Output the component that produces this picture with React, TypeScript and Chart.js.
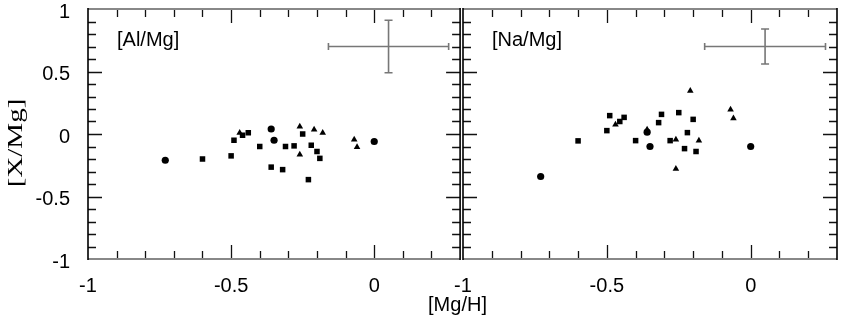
import React, { useEffect, useRef } from "react";
import { Chart, registerables } from "chart.js";
Chart.register(...registerables);

// ---- axis definitions ----
const xMin = -1;
const xMax = 0.3;
const yMin = -1;
const yMax = 1;
const xTickValues = [-1, -0.5, 0];
const yTickValues = [-1, -0.5, 0, 0.5, 1];

// ---- [Al/Mg] panel ----
const alCircles: [number, number][] = [
  [-0.73, -0.21], [-0.36, 0.04], [-0.35, -0.05], [0.0, -0.06],
];
const alSquares: [number, number][] = [
  [-0.6, -0.2], [-0.5, -0.175], [-0.49, -0.05], [-0.46, -0.01], [-0.44, 0.01],
  [-0.4, -0.1], [-0.36, -0.265], [-0.32, -0.285], [-0.31, -0.1], [-0.28, -0.095],
  [-0.25, 0.0], [-0.22, -0.09], [-0.2, -0.14], [-0.19, -0.195], [-0.23, -0.365],
];
const alTriangles: [number, number][] = [
  [-0.47, 0.01], [-0.26, 0.06], [-0.21, 0.035], [-0.18, 0.01], [-0.26, -0.165],
  [-0.07, -0.045], [-0.06, -0.105],
];

// ---- [Na/Mg] panel ----
const naCircles: [number, number][] = [
  [-0.73, -0.34], [-0.36, 0.015], [-0.35, -0.1], [0.0, -0.1],
];
const naSquares: [number, number][] = [
  [-0.6, -0.055], [-0.5, 0.027], [-0.49, 0.147], [-0.455, 0.1], [-0.44, 0.133],
  [-0.4, -0.053], [-0.31, 0.157], [-0.32, 0.091], [-0.25, 0.171], [-0.2, 0.117],
  [-0.22, 0.011], [-0.28, -0.053], [-0.23, -0.117], [-0.19, -0.14],
];
const naTriangles: [number, number][] = [
  [-0.47, 0.075], [-0.36, 0.035], [-0.21, 0.346], [-0.26, -0.045], [-0.18, -0.053],
  [-0.26, -0.279], [-0.07, 0.195], [-0.06, 0.125],
];

// ---- typical error bars ----
const errCenter: [number, number] = [0.05, 0.7];
const alErr: [number, number] = [0.21, 0.21];
const naErr: [number, number] = [0.21, 0.14];

const SANS = '"Liberation Sans", Arial, sans-serif';
const SERIF = '"Liberation Serif", "Times New Roman", serif';

function ds(points: [number, number][], style: string, r: number) {
  return {
    data: points.map(([x, y]) => ({ x, y })),
    pointStyle: style,
    pointRadius: r,
    pointHoverRadius: r,
    backgroundColor: "#000",
    borderColor: "#000",
    borderWidth: 0,
    showLine: false,
  };
}

function framePlugin(label: string, err: [number, number], extra: (chart: any) => void) {
  return {
    id: "frame",
    afterDraw(chart: any) {
      const { ctx, chartArea } = chart;
      const { left, right, top, bottom } = chartArea;
      const xs = chart.scales.x;
      const ys = chart.scales.y;
      ctx.save();
      // inward ticks
      ctx.strokeStyle = "#111";
      ctx.lineWidth = 1.3;
      ctx.beginPath();
      for (let i = Math.round(xMin * 10); i <= Math.round(xMax * 10); i++) {
        const px = Math.round(xs.getPixelForValue(i / 10)) + 0.5;
        if (px <= left + 1 || px >= right - 1) continue;
        const len = i % 5 === 0 ? 14 : 8;
        ctx.moveTo(px, bottom);
        ctx.lineTo(px, bottom - len);
        ctx.moveTo(px, top);
        ctx.lineTo(px, top + len);
      }
      for (let i = Math.round(yMin * 10); i <= Math.round(yMax * 10); i++) {
        const py = Math.round(ys.getPixelForValue(i / 10)) + 0.5;
        if (py <= top + 1 || py >= bottom - 1) continue;
        const len = i % 5 === 0 ? 14 : 8;
        ctx.moveTo(left, py);
        ctx.lineTo(left + len, py);
        ctx.moveTo(right, py);
        ctx.lineTo(right - len, py);
      }
      ctx.stroke();
      // frame
      ctx.strokeStyle = "#888";
      ctx.lineWidth = 2;
      ctx.beginPath();
      ctx.moveTo(left, top);
      ctx.lineTo(right, top);
      ctx.moveTo(left, bottom);
      ctx.lineTo(right, bottom);
      ctx.stroke();
      ctx.strokeStyle = "#000";
      ctx.lineWidth = 1.6;
      ctx.beginPath();
      ctx.moveTo(left, top - 1);
      ctx.lineTo(left, bottom + 1);
      ctx.moveTo(right, top - 1);
      ctx.lineTo(right, bottom + 1);
      ctx.stroke();
      // error bar
      const cx = xs.getPixelForValue(errCenter[0]);
      const cy = ys.getPixelForValue(errCenter[1]);
      const x1 = xs.getPixelForValue(errCenter[0] - err[0]);
      const x2 = xs.getPixelForValue(errCenter[0] + err[0]);
      const y1 = ys.getPixelForValue(errCenter[1] + err[1]);
      const y2 = ys.getPixelForValue(errCenter[1] - err[1]);
      ctx.strokeStyle = "#777";
      ctx.lineWidth = 1.6;
      ctx.beginPath();
      ctx.moveTo(x1, cy);
      ctx.lineTo(x2, cy);
      ctx.moveTo(x1, cy - 3.5);
      ctx.lineTo(x1, cy + 3.5);
      ctx.moveTo(x2, cy - 3.5);
      ctx.lineTo(x2, cy + 3.5);
      ctx.moveTo(cx, y1);
      ctx.lineTo(cx, y2);
      ctx.moveTo(cx - 4, y1);
      ctx.lineTo(cx + 4, y1);
      ctx.moveTo(cx - 4, y2);
      ctx.lineTo(cx + 4, y2);
      ctx.stroke();
      // panel label
      ctx.fillStyle = "#000";
      ctx.font = `20px ${SANS}`;
      ctx.textAlign = "left";
      ctx.textBaseline = "alphabetic";
      ctx.fillText(label, left + 29, top + 37);
      extra(chart);
      ctx.restore();
    },
  };
}

function baseOptions(showY: boolean, padLeft: number, padRight: number) {
  return {
    responsive: false,
    animation: false as const,
    events: [] as any[],
    layout: { padding: { left: padLeft, right: padRight, top: 9, bottom: 0 } },
    plugins: { legend: { display: false }, tooltip: { enabled: false } },
    scales: {
      x: {
        type: "linear" as const,
        min: xMin,
        max: xMax,
        afterBuildTicks: (s: any) => {
          s.ticks = xTickValues.map((v) => ({ value: v }));
        },
        afterFit: (s: any) => {
          s.height = 68;
          s.paddingLeft = 0;
          s.paddingRight = 0;
        },
        grid: { display: false, drawTicks: false },
        border: { display: false },
        ticks: {
          font: { family: SANS, size: 20 },
          color: "#000",
          padding: 15,
          maxRotation: 0,
          autoSkip: false,
          callback: (v: any) => String(v),
        },
      },
      y: {
        type: "linear" as const,
        display: showY,
        min: yMin,
        max: yMax,
        afterBuildTicks: (s: any) => {
          s.ticks = yTickValues.map((v) => ({ value: v }));
        },
        afterFit: (s: any) => {
          s.width = showY ? 88 : 0;
          s.paddingTop = 0;
          s.paddingBottom = 0;
        },
        grid: { display: false, drawTicks: false },
        border: { display: false },
        ticks: {
          font: { family: SANS, size: 20 },
          color: "#000",
          padding: 18,
          labelOffset: 3,
          autoSkip: false,
          callback: (v: any) => String(v),
        },
      },
    },
  };
}

export default function App() {
  const leftRef = useRef<HTMLCanvasElement>(null);
  const rightRef = useRef<HTMLCanvasElement>(null);

  useEffect(() => {
    const left = new Chart(leftRef.current!, {
      type: "scatter",
      data: {
        datasets: [
          ds(alSquares, "rect", 3.9),
          ds(alTriangles, "triangle", 3.8),
          ds(alCircles, "circle", 3.6),
        ],
      },
      options: baseOptions(true, 0, 1) as any,
      plugins: [
        framePlugin("[Al/Mg]", alErr, (chart: any) => {
          const ctx = chart.ctx;
          ctx.save();
          ctx.translate(17, 143);
          ctx.rotate(-Math.PI / 2);
          ctx.scale(1.45, 1);
          ctx.font = `20px ${SERIF}`;
          ctx.textAlign = "center";
          ctx.textBaseline = "middle";
          ctx.fillStyle = "#000";
          ctx.fillText("[X/Mg]", 0, 0);
          ctx.restore();
        }),
      ],
    });
    const right = new Chart(rightRef.current!, {
      type: "scatter",
      data: {
        datasets: [
          ds(naSquares, "rect", 3.9),
          ds(naTriangles, "triangle", 3.8),
          ds(naCircles, "circle", 3.6),
        ],
      },
      options: baseOptions(false, 63, 8) as any,
      plugins: [
        framePlugin("[Na/Mg]", naErr, (chart: any) => {
          const ctx = chart.ctx;
          ctx.font = `20px ${SANS}`;
          ctx.textAlign = "center";
          ctx.textBaseline = "middle";
          ctx.fillStyle = "#000";
          ctx.fillText("[Mg/H]", 57.5, 305);
        }),
      ],
    });
    return () => {
      left.destroy();
      right.destroy();
    };
  }, []);

  return (
    <div style={{ position: "fixed", left: 0, top: 0, width: 845, height: 327, background: "#fff" }}>
      <canvas ref={leftRef} width={464} height={327} style={{ position: "absolute", left: 0, top: 0 }} />
      <canvas ref={rightRef} width={445} height={327} style={{ position: "absolute", left: 400, top: 0 }} />
    </div>
  );
}
